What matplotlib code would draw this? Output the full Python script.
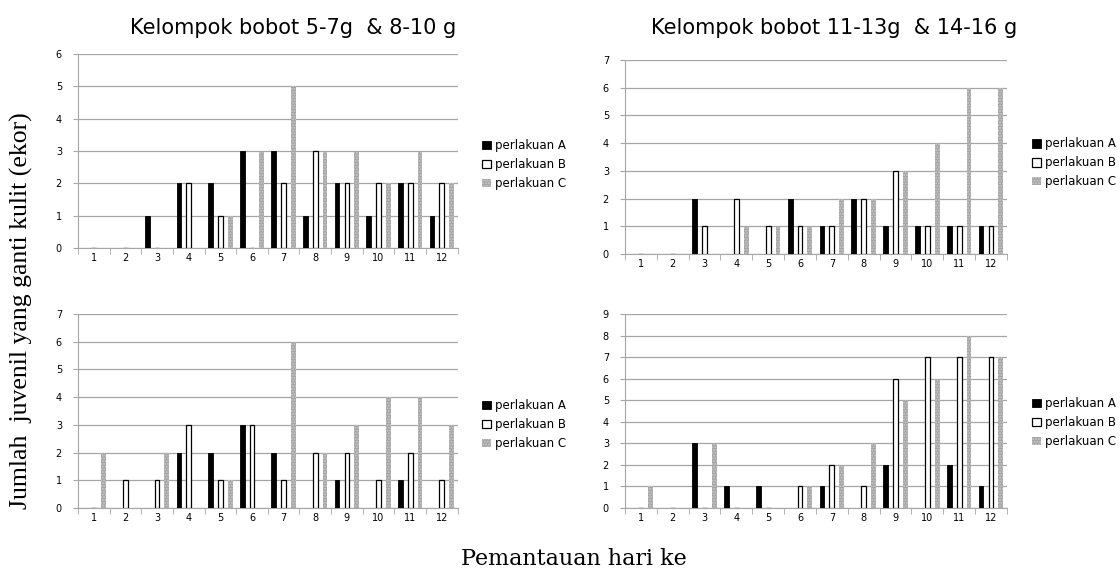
import matplotlib
matplotlib.use("Agg")
import matplotlib.pyplot as plt
import numpy as np

days = list(range(1, 13))
series_names = ["perlakuan A", "perlakuan B", "perlakuan C"]

# Kelompok bobot 5-7g (atas kiri)
tl_A = [0, 0, 1, 2, 2, 3, 3, 1, 2, 1, 2, 1]
tl_B = [0, 0, 0, 2, 1, 0, 2, 3, 2, 2, 2, 2]
tl_C = [0, 0, 0, 0, 1, 3, 5, 3, 3, 2, 3, 2]

# Kelompok bobot 11-13g (atas kanan)
tr_A = [0, 0, 2, 0, 0, 2, 1, 2, 1, 1, 1, 1]
tr_B = [0, 0, 1, 2, 1, 1, 1, 2, 3, 1, 1, 1]
tr_C = [0, 0, 0, 1, 1, 1, 2, 2, 3, 4, 6, 6]

# Kelompok bobot 8-10g (bawah kiri)
bl_A = [0, 0, 0, 2, 2, 3, 2, 0, 1, 0, 1, 0]
bl_B = [0, 1, 1, 3, 1, 3, 1, 2, 2, 1, 2, 1]
bl_C = [2, 0, 2, 0, 1, 0, 6, 2, 3, 4, 4, 3]

# Kelompok bobot 14-16g (bawah kanan)
br_A = [0, 0, 3, 1, 1, 0, 1, 0, 2, 0, 2, 1]
br_B = [0, 0, 0, 0, 0, 1, 2, 1, 6, 7, 7, 7]
br_C = [1, 0, 3, 0, 0, 1, 2, 3, 5, 6, 8, 7]

fig = plt.figure(figsize=(11.2, 5.74), dpi=100)

panels = [
    ([0.0696, 0.568, 0.339, 0.338], tl_A, tl_B, tl_C, 6, 0.43),
    ([0.558, 0.5575, 0.341, 0.338], tr_A, tr_B, tr_C, 7, 0.47),
    ([0.0696, 0.115, 0.339, 0.338], bl_A, bl_B, bl_C, 7, 0.43),
    ([0.558, 0.115, 0.341, 0.338], br_A, br_B, br_C, 9, 0.44),
]

x = np.array(days)
w = 0.15
off = 0.31
grid_col = "#a6a6a6"

for rect, a, b, c, ymax, leg_y in panels:
    ax = fig.add_axes(rect)
    ax.bar(x - off, a, w, color="black", edgecolor="black", linewidth=0.6,
           label=series_names[0], zorder=3)
    ax.bar(x, b, w, color="white", edgecolor="black", linewidth=0.9,
           label=series_names[1], zorder=3)
    ax.bar(x + off, c, w, color="#a3a3a3", edgecolor="#cccccc", hatch="......",
           linewidth=0, label=series_names[2], zorder=3)

    ax.set_xlim(0.5, 12.5)
    ax.set_ylim(0, ymax)
    ax.set_yticks(range(ymax + 1))
    ax.set_xticks(days)
    ax.set_xticks(np.arange(0.5, 13, 1), minor=True)
    ax.tick_params(axis="x", which="major", length=0, labelsize=7, pad=3.5)
    ax.tick_params(axis="x", which="minor", length=4, color=grid_col, direction="out")
    ax.tick_params(axis="y", length=3.5, color=grid_col, labelsize=7, pad=8)
    ax.yaxis.grid(True, color=grid_col, linewidth=0.9, zorder=0)
    for s in ["top", "right"]:
        ax.spines[s].set_visible(False)
    ax.spines["left"].set_color(grid_col)
    ax.spines["bottom"].set_color(grid_col)
    ax.set_axisbelow(True)

    ax.legend(loc="center left", bbox_to_anchor=(1.065, leg_y), frameon=False,
              fontsize=8.5, handlelength=0.75, handleheight=0.75, handletextpad=0.35,
              labelspacing=0.5, borderpad=0, borderaxespad=0)

fig.text(0.262, 0.951, "Kelompok bobot 5-7g  & 8-10 g", ha="center", va="center",
         fontsize=15, family="DejaVu Sans")
fig.text(0.745, 0.951, "Kelompok bobot 11-13g  & 14-16 g", ha="center", va="center",
         fontsize=15, family="DejaVu Sans")
fig.text(0.019, 0.458, "Jumlah  juvenil yang ganti kulit (ekor)", rotation=90,
         ha="center", va="center", fontsize=18.5, family="Liberation Serif")
fig.text(0.512, 0.026, "Pemantauan hari ke", ha="center", va="center",
         fontsize=16, family="DejaVu Serif")

fig.savefig("out.png", dpi=100)
